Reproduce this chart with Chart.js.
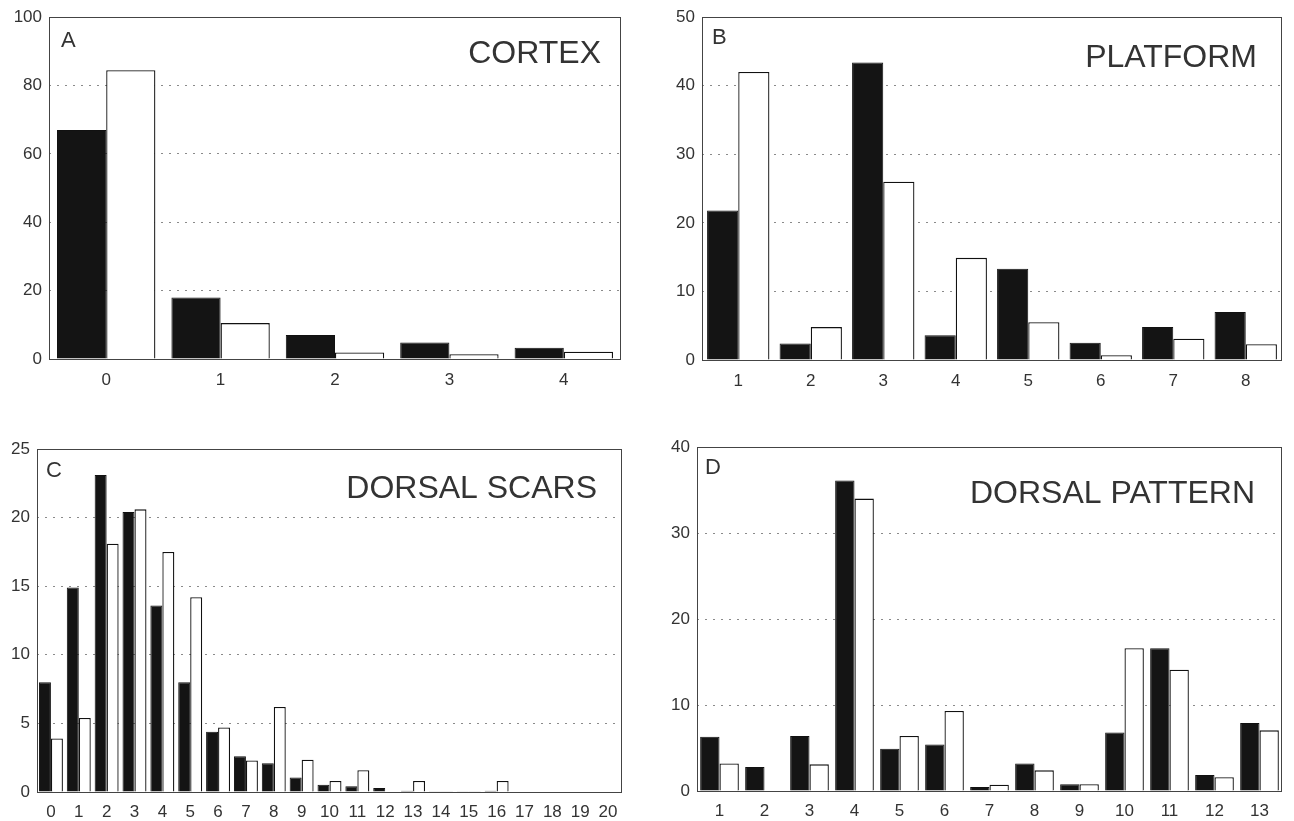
<!DOCTYPE html>
<html>
<head>
<meta charset="utf-8">
<script src="https://cdn.jsdelivr.net/npm/chart.js@4.4.1/dist/chart.umd.min.js"></script>
<style>
  html, body { margin: 0; padding: 0; background: #fff; }
  body { width: 1294px; height: 821px; position: relative; overflow: hidden; }
  canvas { position: absolute; }
</style>
</head>
<body>
<canvas id="cA" width="640" height="400" style="left:0px;top:0px;"></canvas>
<canvas id="cB" width="644" height="400" style="left:650px;top:0px;"></canvas>
<canvas id="cC" width="647" height="401" style="left:0px;top:420px;"></canvas>
<canvas id="cD" width="644" height="401" style="left:650px;top:420px;"></canvas>
<script>
// ---------- DATA ----------
const catsA = ['0', '1', '2', '3', '4'];
const blackA = [67, 18, 7, 4.8, 3.3];
const whiteA = [84.5, 10.5, 1.9, 1.4, 2.1];

const catsB = ['1', '2', '3', '4', '5', '6', '7', '8'];
const blackB = [21.8, 2.4, 43.4, 3.6, 13.3, 2.5, 4.8, 7.0];
const whiteB = [42.0, 4.8, 26.0, 14.9, 5.5, 0.7, 3.1, 2.3];

const catsC = ['0','1','2','3','4','5','6','7','8','9','10','11','12','13','14','15','16','17','18','19','20'];
const blackC = [8.0, 14.9, 23.1, 20.4, 13.6, 8.0, 4.4, 2.6, 2.1, 1.05, 0.53, 0.41, 0.29, 0.1, 0.05, 0.05, 0.1, 0, 0, 0, 0];
const whiteC = [3.9, 5.4, 18.1, 20.6, 17.5, 14.2, 4.7, 2.3, 6.2, 2.35, 0.8, 1.58, 0, 0.8, 0.05, 0.05, 0.8, 0, 0, 0, 0];

const catsD = ['1','2','3','4','5','6','7','8','9','10','11','12','13'];
const blackD = [6.3, 2.8, 6.4, 36.1, 4.9, 5.4, 0.47, 3.2, 0.78, 6.8, 16.6, 1.86, 7.9];
const whiteD = [3.2, 0, 3.1, 34.0, 6.4, 9.3, 0.74, 2.4, 0.78, 16.6, 14.1, 1.6, 7.05];

const letters = ['A', 'B', 'C', 'D'];
const titles = ['CORTEX', 'PLATFORM', 'DORSAL SCARS', 'DORSAL PATTERN'];
const yMax = [100, 50, 25, 40];
const yStep = [20, 10, 5, 10];

// ---------- STYLE ----------
const FONT = "'Liberation Sans', Arial, Helvetica, sans-serif";
const TEXT = '#333';

const panelText = {
  id: 'panelText',
  afterDraw(chart, args, opts) {
    const { ctx, chartArea: a } = chart;
    ctx.save();
    // frame
    ctx.strokeStyle = '#444';
    ctx.lineWidth = 1;
    ctx.strokeRect(Math.round(a.left) + 0.5, Math.round(a.top) + 0.5,
                   Math.round(a.right - a.left) - 1, Math.round(a.bottom - a.top));
    ctx.fillStyle = TEXT;
    ctx.textBaseline = 'alphabetic';
    ctx.font = '22px ' + FONT;
    ctx.textAlign = 'left';
    ctx.fillText(opts.letter, a.left + opts.lx, a.top + opts.ly);
    ctx.font = '32px ' + FONT;
    ctx.textAlign = 'right';
    ctx.fillText(opts.title, a.right - opts.tx, a.top + opts.ty);
    ctx.restore();
  }
};

function makeChart(id, idx, cats, black, white, L) {
  const max = yMax[idx];
  new Chart(document.getElementById(id), {
    type: 'bar',
    data: {
      labels: cats,
      datasets: [
        { data: black, backgroundColor: '#141414', borderColor: '#111', borderWidth: 1,
          categoryPercentage: 0.86, barPercentage: 1.0 },
        { data: white, backgroundColor: '#ffffff', borderColor: '#111', borderWidth: 1.3,
          categoryPercentage: 0.86, barPercentage: 1.0 }
      ]
    },
    options: {
      responsive: false,
      animation: false,
      devicePixelRatio: 1,
      layout: { padding: { left: 0, top: L.top, right: L.right, bottom: 0 } },
      plugins: {
        legend: { display: false },
        tooltip: { enabled: false },
        panelText: { letter: letters[idx], title: titles[idx], lx: L.lx, ly: L.ly, tx: L.tx, ty: L.ty }
      },
      scales: {
        x: {
          type: 'category',
          grid: { display: false, drawTicks: false },
          border: { display: false },
          ticks: { color: TEXT, font: { family: FONT, size: 17 }, padding: L.xpad,
                   autoSkip: false, maxRotation: 0, minRotation: 0 },
          afterFit: (s) => { s.height = L.xh; }
        },
        y: {
          min: 0, max: max,
          grid: {
            drawTicks: false,
            color: (c) => (c.tick && (c.tick.value === 0 || c.tick.value === max)) ? 'rgba(0,0,0,0)' : '#8a8a8a',
            lineWidth: 1
          },
          border: { display: false, dash: [2, 6] },
          ticks: { stepSize: yStep[idx], color: TEXT, font: { family: FONT, size: 17 }, padding: 7 },
          afterFit: (s) => { s.width = L.yw; }
        }
      }
    },
    plugins: [panelText]
  });
}

makeChart('cA', 0, catsA, blackA, whiteA, { top: 15, right: 19, yw: 49, xh: 41, xpad: 11, lx: 12, ly: 30, tx: 20, ty: 46 });
makeChart('cB', 1, catsB, blackB, whiteB, { top: 16, right: 12, yw: 52, xh: 40, xpad: 11, lx: 10, ly: 27, tx: 25, ty: 50 });
makeChart('cC', 2, catsC, blackC, whiteC, { top: 29, right: 25, yw: 37, xh: 29, xpad: 10, lx: 9, ly: 28, tx: 25, ty: 49 });
makeChart('cD', 3, catsD, blackD, whiteD, { top: 27, right: 12, yw: 47, xh: 30, xpad: 10, lx: 8, ly: 27, tx: 27, ty: 56 });
</script>
</body>
</html>
